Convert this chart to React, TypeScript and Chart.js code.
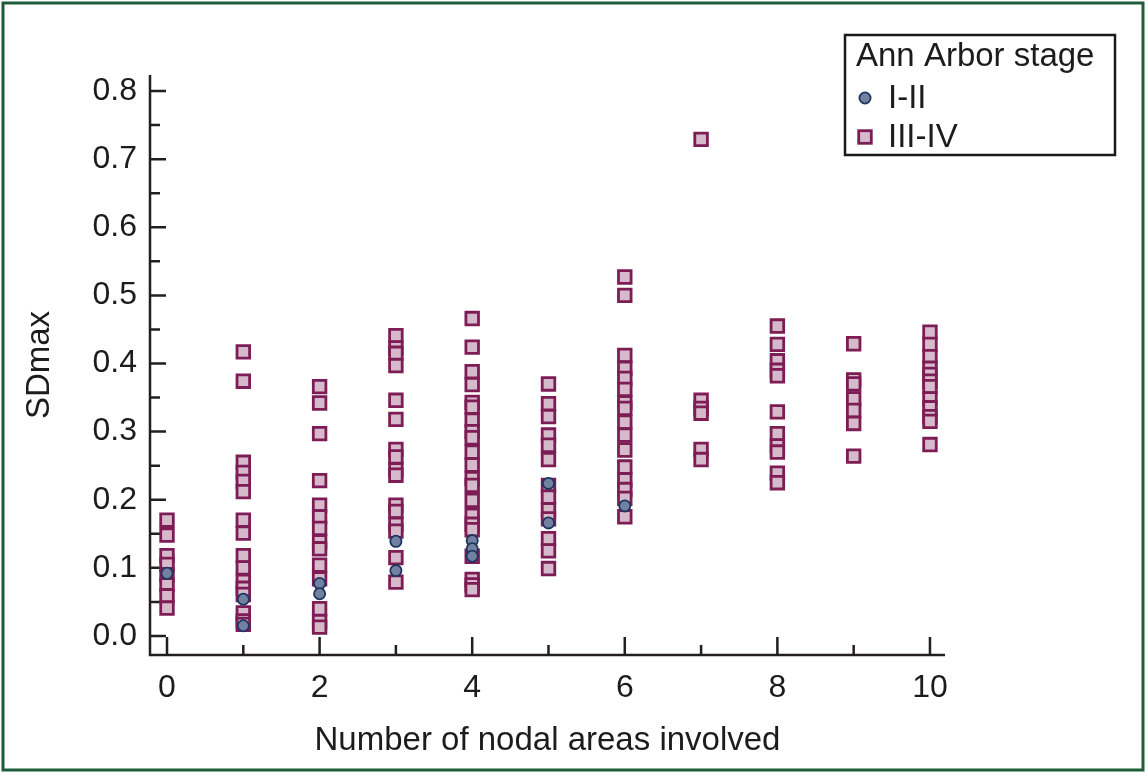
import React, { useEffect, useRef } from "react";
import { Chart, registerables } from "chart.js";

Chart.register(...registerables);

// Number of nodal areas involved (x categories)
const nodalAreas = [0, 1, 2, 3, 4, 5, 6, 7, 8, 9, 10];

// SDmax values, Ann Arbor stage I-II (circles), one array per nodal-area count
const stageI_II: number[][] = [
  [0.092],
  [0.054, 0.015],
  [0.077, 0.062],
  [0.139, 0.096],
  [0.14, 0.128, 0.117],
  [0.224, 0.166],
  [0.191],
  [],
  [],
  [],
  [],
];

// SDmax values, Ann Arbor stage III-IV (squares)
const stageIII_IV: number[][] = [
  [0.17, 0.148, 0.118, 0.105, 0.09, 0.075, 0.059, 0.041],
  [0.417, 0.374, 0.255, 0.24, 0.227, 0.212, 0.17, 0.151, 0.118, 0.1, 0.08, 0.07, 0.061, 0.034, 0.022, 0.017],
  [0.366, 0.342, 0.297, 0.228, 0.192, 0.175, 0.158, 0.138, 0.128, 0.104, 0.084, 0.04, 0.021, 0.013],
  [0.441, 0.423, 0.415, 0.397, 0.346, 0.318, 0.274, 0.263, 0.244, 0.236, 0.192, 0.183, 0.164, 0.154, 0.115, 0.079],
  [0.466, 0.424, 0.388, 0.369, 0.343, 0.336, 0.317, 0.3, 0.291, 0.27, 0.251, 0.231, 0.221, 0.199, 0.177, 0.164, 0.156, 0.117, 0.083, 0.075, 0.068],
  [0.37, 0.341, 0.322, 0.295, 0.28, 0.259, 0.221, 0.204, 0.185, 0.172, 0.143, 0.125, 0.099],
  [0.527, 0.5, 0.412, 0.393, 0.378, 0.362, 0.342, 0.334, 0.314, 0.295, 0.273, 0.248, 0.229, 0.215, 0.202, 0.175],
  [0.729, 0.346, 0.334, 0.327, 0.274, 0.259],
  [0.455, 0.428, 0.404, 0.39, 0.382, 0.329, 0.297, 0.279, 0.27, 0.239, 0.225],
  [0.429, 0.376, 0.37, 0.348, 0.331, 0.312, 0.264],
  [0.446, 0.428, 0.41, 0.393, 0.384, 0.374, 0.366, 0.348, 0.335, 0.322, 0.315, 0.281],
];

const seriesLabels = ["I-II", "III-IV"];
const legendTitle = "Ann Arbor stage";
const xTitle = "Number of nodal areas involved";
const yTitle = "SDmax";

const xMajorTicks = [0, 2, 4, 6, 8, 10];
const xMinorTicks = [1, 3, 5, 7, 9];
const xTickLabels = ["0", "2", "4", "6", "8", "10"];
const yMajorTicks = [0, 0.1, 0.2, 0.3, 0.4, 0.5, 0.6, 0.7, 0.8];
const yMinorTicks = [0.05, 0.15, 0.25, 0.35, 0.45, 0.55, 0.65, 0.75];
const yTickLabels = ["0.0", "0.1", "0.2", "0.3", "0.4", "0.5", "0.6", "0.7", "0.8"];

const FONT = "'Liberation Sans', Arial, Helvetica, sans-serif";
const TEXT = "#1c1c1c";
const AXIS = "#231f20";
const CIRCLE_FILL = "#7381a1";
const CIRCLE_BORDER = "#1f3561";
const SQUARE_FILL = "#d6bacb";
const SQUARE_BORDER = "#7e1c55";

const toPoints = (cols: number[][]) =>
  cols.flatMap((vals, i) => vals.map((v) => ({ x: nodalAreas[i], y: v })));

const decorPlugin = {
  id: "decor",
  beforeDraw(chart: any) {
    const { ctx, width, height } = chart;
    ctx.save();
    ctx.fillStyle = "#ffffff";
    ctx.fillRect(0, 0, width, height);
    ctx.restore();
  },
  beforeDatasetsDraw(chart: any) {
    const { ctx, chartArea, scales } = chart;
    const { left, right, top, bottom } = chartArea;
    const x = scales.x;
    const y = scales.y;
    ctx.save();
    ctx.strokeStyle = AXIS;
    ctx.lineWidth = 2.5;
    ctx.lineCap = "butt";
    ctx.beginPath();
    ctx.moveTo(left, top);
    ctx.lineTo(left, bottom);
    ctx.lineTo(right, bottom);
    ctx.stroke();
    ctx.beginPath();
    yMajorTicks.forEach((v) => {
      const py = y.getPixelForValue(v);
      ctx.moveTo(left, py);
      ctx.lineTo(left + 16, py);
    });
    yMinorTicks.forEach((v) => {
      const py = y.getPixelForValue(v);
      ctx.moveTo(left, py);
      ctx.lineTo(left + 10, py);
    });
    xMajorTicks.forEach((v) => {
      const px = x.getPixelForValue(v);
      ctx.moveTo(px, bottom);
      ctx.lineTo(px, bottom - 18);
    });
    xMinorTicks.forEach((v) => {
      const px = x.getPixelForValue(v);
      ctx.moveTo(px, bottom);
      ctx.lineTo(px, bottom - 10);
    });
    ctx.stroke();
    ctx.restore();
  },
  afterDraw(chart: any) {
    const { ctx, width, height } = chart;
    ctx.save();
    // Legend box
    ctx.strokeStyle = "#1a1a1a";
    ctx.lineWidth = 2.5;
    ctx.fillStyle = "#ffffff";
    ctx.fillRect(845, 35, 270, 120);
    ctx.strokeRect(845, 35, 270, 120);
    ctx.fillStyle = TEXT;
    ctx.font = `33px ${FONT}`;
    ctx.textBaseline = "middle";
    ctx.textAlign = "left";
    ctx.fillText(legendTitle, 856, 57);
    ctx.fillText(seriesLabels[0], 888, 99);
    ctx.fillText(seriesLabels[1], 888, 138);
    // circle marker
    ctx.beginPath();
    ctx.arc(865, 98, 5.6, 0, Math.PI * 2);
    ctx.fillStyle = CIRCLE_FILL;
    ctx.fill();
    ctx.lineWidth = 1.8;
    ctx.strokeStyle = CIRCLE_BORDER;
    ctx.stroke();
    // square marker
    ctx.fillStyle = SQUARE_FILL;
    ctx.fillRect(858.7, 130.7, 12.6, 12.6);
    ctx.lineWidth = 2.8;
    ctx.strokeStyle = SQUARE_BORDER;
    ctx.strokeRect(858.7, 130.7, 12.6, 12.6);
    // green frame
    ctx.strokeStyle = "#1f5c3a";
    ctx.lineWidth = 3;
    ctx.strokeRect(3, 3, width - 6, height - 6);
    ctx.restore();
  },
};

export default function App() {
  const canvasRef = useRef<HTMLCanvasElement | null>(null);

  useEffect(() => {
    if (!canvasRef.current) return;
    const chart = new Chart(canvasRef.current, {
      type: "scatter",
      data: {
        datasets: [
          {
            label: seriesLabels[0],
            data: toPoints(stageI_II),
            pointStyle: "circle",
            pointRadius: 5.6,
            pointBackgroundColor: CIRCLE_FILL,
            pointBorderColor: CIRCLE_BORDER,
            pointBorderWidth: 1.8,
            backgroundColor: CIRCLE_FILL,
            borderColor: CIRCLE_BORDER,
          },
          {
            label: seriesLabels[1],
            data: toPoints(stageIII_IV),
            pointStyle: "rect",
            pointRadius: 8.9,
            pointBackgroundColor: SQUARE_FILL,
            pointBorderColor: SQUARE_BORDER,
            pointBorderWidth: 2.8,
            backgroundColor: SQUARE_FILL,
            borderColor: SQUARE_BORDER,
          },
        ],
      },
      options: {
        responsive: false,
        animation: false,
        devicePixelRatio: 1,
        layout: { padding: { top: 75, right: 201, left: 0, bottom: 0 } },
        plugins: {
          legend: { display: false },
          tooltip: { enabled: false },
        },
        scales: {
          x: {
            type: "linear",
            min: -0.223,
            max: 10.197,
            grid: { display: false, drawTicks: false },
            border: { display: false },
            afterBuildTicks: (scale: any) => {
              scale.ticks = xMajorTicks.map((v) => ({ value: v }));
            },
            afterFit: (scale: any) => {
              scale.height = 118;
            },
            ticks: {
              autoSkip: false,
              maxRotation: 0,
              padding: 14,
              color: TEXT,
              font: { family: FONT, size: 32 },
              callback: (v: any) => {
                const i = xMajorTicks.indexOf(Number(v));
                return i >= 0 ? xTickLabels[i] : "";
              },
            },
            title: {
              display: true,
              text: xTitle,
              color: TEXT,
              font: { family: FONT, size: 33 },
              padding: { top: 0, bottom: 12 },
            },
          },
          y: {
            type: "linear",
            min: -0.0279,
            max: 0.8235,
            grid: { display: false, drawTicks: false },
            border: { display: false },
            afterBuildTicks: (scale: any) => {
              scale.ticks = yMajorTicks.map((v) => ({ value: v }));
            },
            afterFit: (scale: any) => {
              scale.width = 150;
            },
            ticks: {
              autoSkip: false,
              padding: 13,
              color: TEXT,
              font: { family: FONT, size: 32 },
              callback: (v: any) => {
                const i = yMajorTicks.findIndex((t) => Math.abs(t - Number(v)) < 1e-9);
                return i >= 0 ? yTickLabels[i] : "";
              },
            },
            title: {
              display: true,
              text: yTitle,
              color: TEXT,
              font: { family: FONT, size: 33 },
              padding: { top: 20, bottom: 0 },
            },
          },
        },
      },
      plugins: [decorPlugin],
    } as any);
    return () => chart.destroy();
  }, []);

  return (
    <div style={{ position: "absolute", left: 0, top: 0, width: 1146, height: 773 }}>
      <canvas ref={canvasRef} width={1146} height={773} style={{ display: "block" }} />
    </div>
  );
}
